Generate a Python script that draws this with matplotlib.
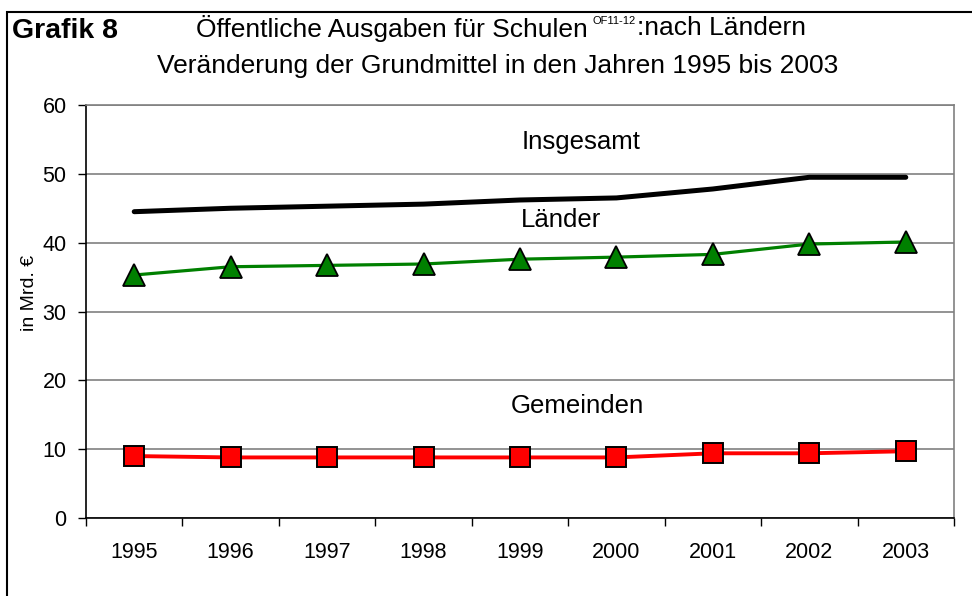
import matplotlib
matplotlib.use("Agg")
import matplotlib.pyplot as plt
from matplotlib.patches import Rectangle

plt.rcParams['font.family'] = ['Liberation Sans', 'DejaVu Sans']

years = ["1995", "1996", "1997", "1998", "1999", "2000", "2001", "2002", "2003"]
insgesamt = [44.5, 45.0, 45.3, 45.6, 46.2, 46.5, 47.8, 49.5, 49.5]
laender = [35.3, 36.5, 36.7, 36.9, 37.6, 37.9, 38.3, 39.8, 40.1]
gemeinden = [9.0, 8.8, 8.8, 8.8, 8.8, 8.8, 9.4, 9.4, 9.7]

W, H = 972, 596
fig = plt.figure(figsize=(W / 100, H / 100), dpi=100)
ax = fig.add_axes([86 / W, 1 - 518 / H, (954 - 86) / W, (518 - 105) / H])

x = list(range(len(years)))
ax.plot(x, insgesamt, color="black", lw=3.6, solid_capstyle="round", zorder=3)
ax.plot(x, laender, color="#008000", lw=2.3, marker="^", markersize=15.5,
        markerfacecolor="#008000", markeredgecolor="black", markeredgewidth=1.3, zorder=3)
ax.plot(x, gemeinden, color="#ff0000", lw=2.8, marker="s", markersize=14.5,
        markerfacecolor="#ff0000", markeredgecolor="black", markeredgewidth=1.4, zorder=3)

ax.text(4.63, 54.6, "Insgesamt", ha="center", va="center", fontsize=18.5)
ax.text(4.42, 43.3, "Länder", ha="center", va="center", fontsize=18.5)
ax.text(4.59, 16.3, "Gemeinden", ha="center", va="center", fontsize=18.5)

ax.set_xlim(-0.5, len(years) - 0.5)
ax.set_ylim(0, 60)
ax.set_yticks(range(0, 61, 10))
ax.yaxis.grid(True, color="#808080", lw=1.2)
ax.set_axisbelow(True)

# category ticks between years, labels centred under the points
ax.set_xticks([i - 0.5 for i in range(len(years) + 1)])
ax.set_xticklabels([])
ax.set_xticks(x, minor=True)
ax.set_xticklabels(years, minor=True)
ax.tick_params(axis="x", which="major", direction="out", length=6, width=1, color="black")
ax.tick_params(axis="x", which="minor", length=0, pad=17, labelsize=15.5)
ax.tick_params(axis="y", direction="out", length=6, width=1, labelsize=15.5, pad=8)

for s in ("top", "right"):
    ax.spines[s].set_color("#808080")
    ax.spines[s].set_linewidth(1.2)
for s in ("left", "bottom"):
    ax.spines[s].set_color("black")
    ax.spines[s].set_linewidth(1.2)

fig.text(29 / W, 1 - 293 / H, "in Mrd. €", rotation=90, ha="center", va="center", fontsize=14)

# outer frame
fig.patches.append(Rectangle((7 / W, -0.1), 1.2, (H - 12) / H + 0.1, transform=fig.transFigure,
                             fill=False, edgecolor="black", lw=1.5))

fig.text(12 / W, 1 - 31 / H, "Grafik 8", ha="left", va="center", fontsize=20.5, fontweight="bold")

# first title line with the small superscript note
r = fig.canvas.get_renderer()
t1 = fig.text(196 / W, 1 - 28 / H, "Öffentliche Ausgaben für Schulen", ha="left", va="center", fontsize=19)
bb = t1.get_window_extent(r)
t2 = fig.text((bb.x1 + 5) / W, 1 - 21 / H, "OF11-12", ha="left", va="center", fontsize=8)
bb2 = t2.get_window_extent(r)
fig.text((bb2.x1 + 1) / W, 1 - 28 / H, ":nach Ländern", ha="left", va="center", fontsize=19)

fig.text(498 / W, 1 - 66 / H, "Veränderung der Grundmittel in den Jahren 1995 bis 2003",
         ha="center", va="center", fontsize=19)

fig.savefig("out.png", dpi=100)
